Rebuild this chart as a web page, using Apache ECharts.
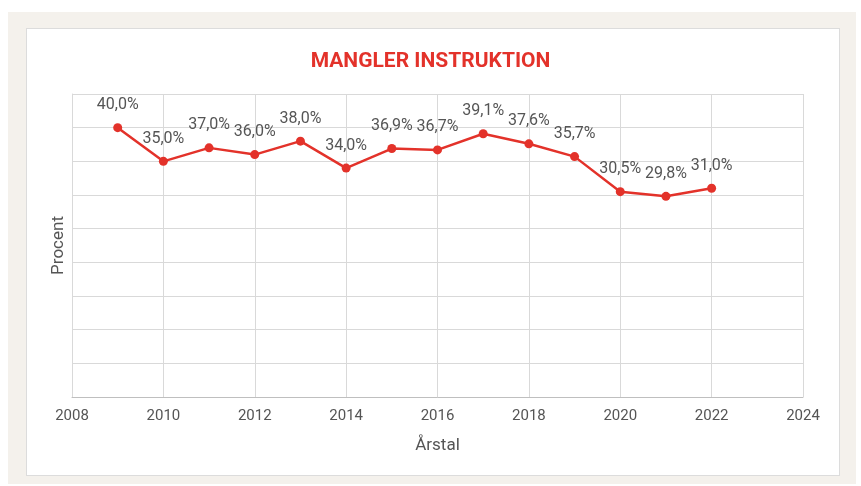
<!DOCTYPE html>
<html>
<head>
<meta charset="utf-8">
<script src="https://cdn.jsdelivr.net/npm/echarts@6/dist/echarts.min.js"></script>
<style>
  html, body { margin: 0; padding: 0; background: #fff; }
  #bg { position: absolute; left: 8px; top: 12px; width: 848px; height: 472px; background: #f4f1ec; }
  #panel { position: absolute; left: 26px; top: 28px; width: 812px; height: 446px; background: #fff; border: 1px solid #dcdcdc; }
  #main { position: absolute; left: 0; top: 0; width: 861px; height: 486px; }
</style>
</head>
<body>
<div id="bg"></div>
<div id="panel"></div>
<div id="main"></div>
<script>
var years = [2009, 2010, 2011, 2012, 2013, 2014, 2015, 2016, 2017, 2018, 2019, 2020, 2021, 2022]
var values = [40.0, 35.0, 37.0, 36.0, 38.0, 34.0, 36.9, 36.7, 39.1, 37.6, 35.7, 30.5, 29.8, 31.0]

var chartDom = document.getElementById('main')
var myChart = echarts.init(chartDom, null, { renderer: 'canvas' })
var option

var font = 'Roboto, "DejaVu Sans", sans-serif'

option = {
  backgroundColor: 'transparent',
  title: {
    text: 'MANGLER INSTRUKTION',
    left: 'center',
    top: 46,
    textStyle: {
      color: '#e3322a',
      fontSize: 21,
      fontWeight: 'bold',
      fontFamily: font
    }
  },
  grid: {
    left: 72,
    right: 58,
    top: 94,
    bottom: 89
  },
  xAxis: {
    type: 'value',
    min: 2008,
    max: 2024,
    interval: 2,
    name: 'Årstal',
    nameLocation: 'middle',
    nameGap: 40,
    nameTextStyle: { color: '#555', fontSize: 17, fontFamily: font },
    axisLine: { show: true, lineStyle: { color: '#bfbfbf' } },
    axisTick: { show: false },
    axisLabel: {
      color: '#555',
      fontSize: 15,
      margin: 12,
      fontFamily: font,
      formatter: function (v) { return String(v) }
    },
    splitLine: { show: true, lineStyle: { color: '#d9d9d9' } }
  },
  yAxis: {
    type: 'value',
    min: 0,
    max: 45,
    interval: 5,
    name: 'Procent',
    nameLocation: 'middle',
    nameGap: 5,
    nameTextStyle: { color: '#555', fontSize: 17, fontFamily: font },
    axisLine: { show: true, lineStyle: { color: '#d9d9d9' } },
    axisTick: { show: false },
    axisLabel: { show: false },
    splitLine: { show: true, lineStyle: { color: '#d9d9d9' } }
  },
  series: [
    {
      type: 'line',
      data: years.map(function (y, i) { return [y, values[i]] }),
      symbol: 'circle',
      symbolSize: 9,
      itemStyle: { color: '#e3322a' },
      lineStyle: { color: '#e3322a', width: 2.5 },
      label: {
        show: true,
        position: 'top',
        distance: 10,
        color: '#555',
        fontSize: 16,
        fontFamily: font,
        formatter: function (p) {
          return p.value[1].toFixed(1).replace('.', ',') + '%'
        }
      }
    }
  ]
}

option && myChart.setOption(option)
</script>
</body>
</html>
